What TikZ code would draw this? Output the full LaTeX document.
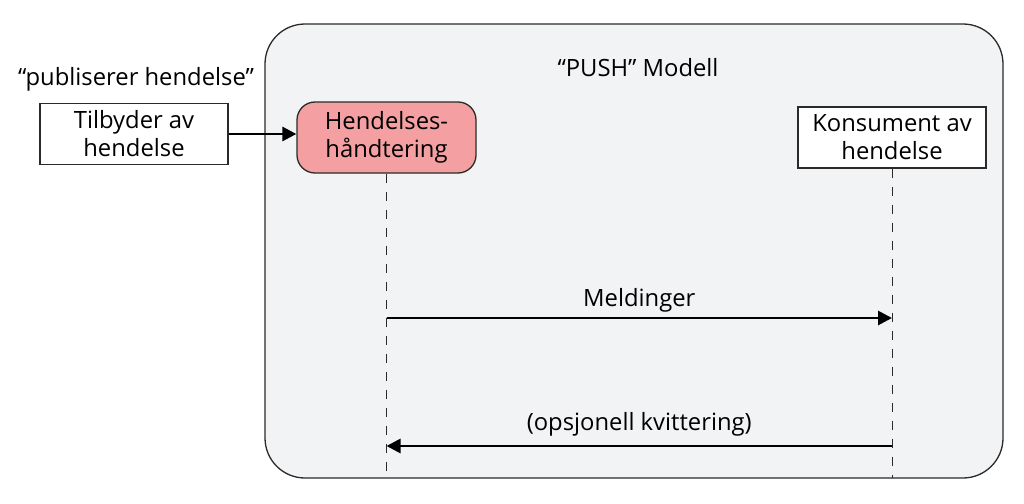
\documentclass[tikz,border=0pt]{standalone}
\usepackage{fontspec}
\setmainfont{Open Sans}
\usetikzlibrary{arrows.meta}
\definecolor{bgbox}{HTML}{F2F3F5}
\definecolor{pinkbox}{HTML}{F4A0A2}
\definecolor{edge}{HTML}{2A2A2A}
\begin{document}
\begin{tikzpicture}[x=1pt,y=-1pt,
  every node/.style={font=\fontsize{23.8}{28}\selectfont, align=center, inner sep=0pt},
  plainbox/.style={draw=edge, line width=1.3pt, fill=white},
  handler/.style={draw=edge, line width=1.3pt, fill=pinkbox, rounded corners=18pt},
  lifeline/.style={draw=edge, line width=1pt, dash pattern=on 9pt off 9pt},
  msg/.style={draw=black, line width=2.8pt, -{Triangle[length=14pt,width=14pt]}}]
\useasboundingbox (0,0) rectangle (1024,503);
\node[draw=edge, line width=1.3pt, fill=bgbox, rounded corners=40pt, minimum width=738pt, minimum height=454pt] (outer) at (634,251) {};
\node (title) at (638,68) {“PUSH” Modell};
\node (pub) at (136,79) {“publiserer hendelse”};
\node[plainbox, minimum width=188pt, minimum height=61pt] (tilb) at (134,134) {Tilbyder av\\hendelse};
\node[handler, minimum width=179pt, minimum height=71pt] (hand) at (386.5,137.5) {Hendelses-\\håndtering};
\node[plainbox, minimum width=188pt, minimum height=61pt] (kons) at (892,137.5) {Konsument av\\hendelse};
\coordinate (hbot) at (386.5,478);
\coordinate (kbot) at (892,478);
\path[lifeline] (hand.south) -- (hbot);
\path[lifeline] (kons.south) -- (kbot);
\coordinate (m1) at (386.5,318);
\coordinate (m2) at (892,318);
\coordinate (k1) at (892,446);
\coordinate (k2) at (386.5,446);
\draw[msg] (tilb.east) -- (hand.west |- tilb.east);
\draw[msg] (m1) -- (m2) node[midway, above=4pt] (meld) {Meldinger};
\draw[msg] (k1) -- (k2) node[midway, above=8pt] (kvit) {(opsjonell kvittering)};
\end{tikzpicture}
\end{document}
